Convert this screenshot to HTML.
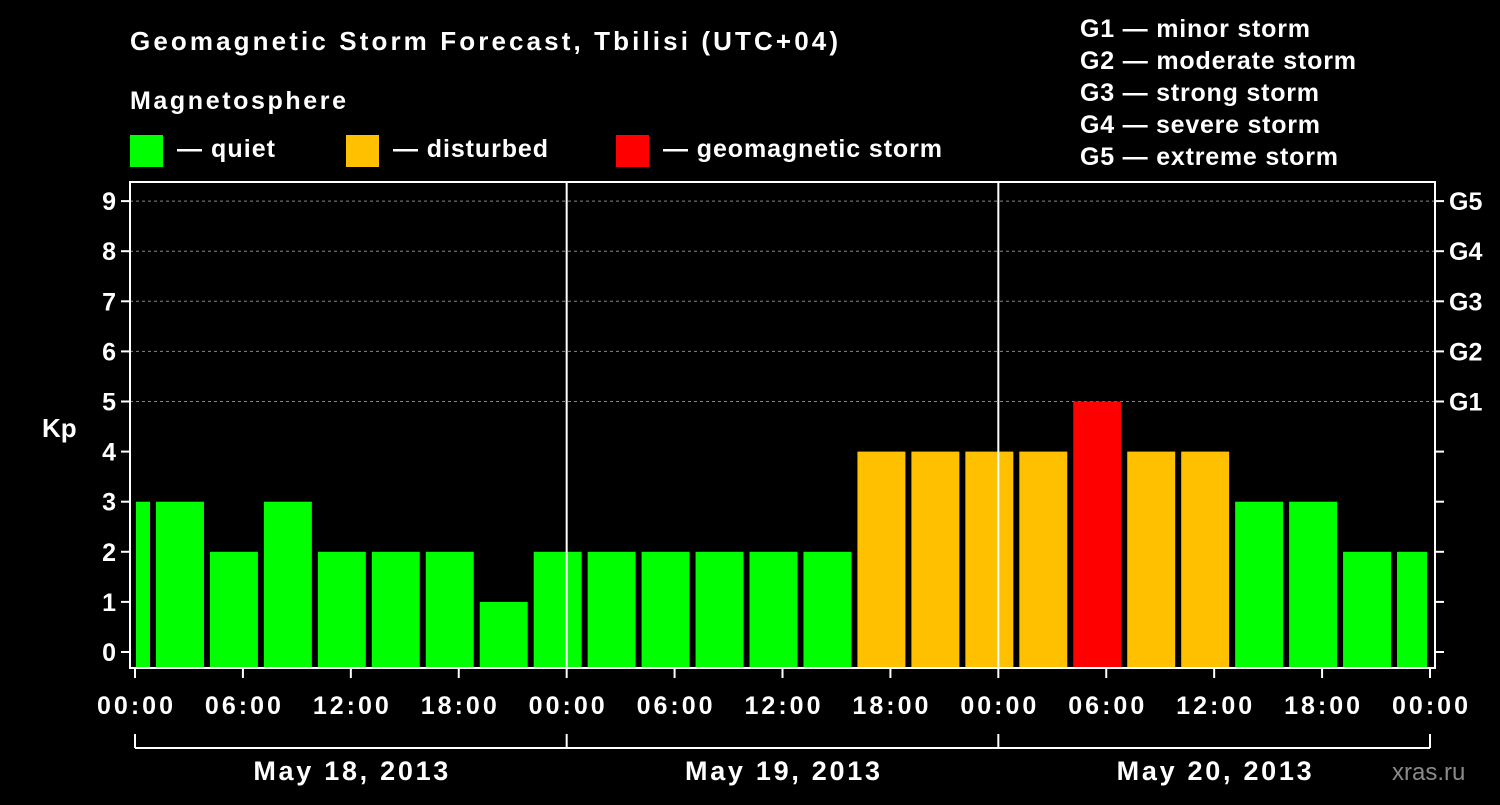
<!DOCTYPE html>
<html><head><meta charset="utf-8"><style>
body{margin:0;background:#000;width:1500px;height:800px;overflow:hidden}
svg text{font-family:"Liberation Sans",sans-serif;font-weight:bold;fill:#fff}
</style></head><body>
<svg id="c" width="1500" height="800" xmlns="http://www.w3.org/2000/svg">
<text x="130" y="50" font-size="26" textLength="708" lengthAdjust="spacing">Geomagnetic Storm Forecast, Tbilisi (UTC+04)</text>
<text x="130" y="109" font-size="25" textLength="216" lengthAdjust="spacing">Magnetosphere</text>
<g><rect x="130" y="135" width="33" height="32" fill="#00ff00"/><text x="177" y="157" font-size="25" textLength="98" lengthAdjust="spacing">— quiet</text></g>
<g><rect x="346" y="135" width="33" height="32" fill="#ffc000"/><text x="393" y="157" font-size="25" textLength="155" lengthAdjust="spacing">— disturbed</text></g>
<g><rect x="616" y="135" width="33" height="32" fill="#ff0000"/><text x="663" y="157" font-size="25" textLength="279" lengthAdjust="spacing">— geomagnetic storm</text></g>
<g font-size="25">
<text x="1080" y="37" textLength="230" lengthAdjust="spacing">G1 — minor storm</text><text x="1080" y="69" textLength="276" lengthAdjust="spacing">G2 — moderate storm</text><text x="1080" y="101" textLength="239" lengthAdjust="spacing">G3 — strong storm</text><text x="1080" y="133" textLength="240" lengthAdjust="spacing">G4 — severe storm</text><text x="1080" y="165" textLength="258" lengthAdjust="spacing">G5 — extreme storm</text></g>
<text x="42" y="437" font-size="26">Kp</text>
<text x="1392" y="780" font-size="24" style="fill:#8a8a8a;font-weight:normal">xras.ru</text>
<g id="plot"></g>
</svg>
<script>
const startHours=[0,1,4,7,10,13,16,19,22,25,28,31,34,37,40,43,46,49,52,55,58,61,64,67,70];
const kpValues=[3,3,2,3,2,2,2,1,2,2,2,2,2,2,4,4,4,4,5,4,4,3,3,2,2];
const timeLabels=["00:00","06:00","12:00","18:00","00:00","06:00","12:00","18:00","00:00","06:00","12:00","18:00","00:00"];
const dayLabels=["May 18, 2013","May 19, 2013","May 20, 2013"];
const yTicks=[0,1,2,3,4,5,6,7,8,9];
const gLabels=["G1","G2","G3","G4","G5"];
const NS="http://www.w3.org/2000/svg";
const X0=135,X1=1430,TOTAL=72;
const xs=h=>X0+(X1-X0)*h/TOTAL;
const ys=v=>652-50.1*v;
const plotTop=182,plotBot=668,L=130,R=1435;
const g=document.getElementById('plot');
function mk(t,a){const e=document.createElementNS(NS,t);for(const k in a)e.setAttribute(k,a[k]);g.appendChild(e);return e;}
for(const v of [5,6,7,8,9]){const l=mk('line',{x1:L,x2:R,y1:ys(v),y2:ys(v),stroke:'#888','stroke-dasharray':'3,3'});

}
startHours.forEach((s,i)=>{
 const v=kpValues[i];
 const h0=s, h1=i===0?startHours[1]:Math.min(s+3,TOTAL);
 const xa=xs(h0)+(i===0?1:3), xb=xs(h1)-3;
 const col=v>=5?'#ff0000':(v>=4?'#ffc000':'#00ff00');
 const r=mk('rect',{x:xa,y:ys(v),width:Math.max(xb-xa,0),height:plotBot-ys(v),fill:col});
 
 
});
for(const d of [1,2]){const l=mk('line',{x1:xs(d*24),x2:xs(d*24),y1:plotTop,y2:plotBot,stroke:'#fff','stroke-width':2});

}
const f=mk('rect',{x:L,y:plotTop,width:R-L,height:plotBot-plotTop,fill:'none',stroke:'#fff','stroke-width':2});


yTicks.forEach(v=>{
 mk('line',{x1:L-9,x2:L,y1:ys(v),y2:ys(v),stroke:'#fff','stroke-width':2});
 mk('line',{x1:R,x2:R+9,y1:ys(v),y2:ys(v),stroke:'#fff','stroke-width':2});
 const t=mk('text',{x:L-14,y:ys(v)+9,'font-size':25,'text-anchor':'end'});t.textContent=v;
 
 
});
gLabels.forEach((s,i)=>{const t=mk('text',{x:1449,y:ys(5+i)+9,'font-size':25});t.textContent=s;
 
 });
timeLabels.forEach((s,i)=>{const xx=xs(i*6);
 mk('line',{x1:xx,x2:xx,y1:plotBot,y2:plotBot+10,stroke:'#fff','stroke-width':2});
 const t=mk('text',{x:xx,y:714,'font-size':25,'text-anchor':'middle',textLength:76,lengthAdjust:'spacing'});t.textContent=s;
 
 });
mk('line',{x1:X0,x2:X1,y1:748,y2:748,stroke:'#fff','stroke-width':2});
for(let d=0;d<=3;d++)mk('line',{x1:xs(d*24),x2:xs(d*24),y1:734,y2:748,stroke:'#fff','stroke-width':2});
dayLabels.forEach((s,i)=>{const t=mk('text',{x:xs(i*24+12),y:780,'font-size':27,'text-anchor':'middle',textLength:195,lengthAdjust:'spacing'});t.textContent=s;
 
 });
</script>
</body></html>
